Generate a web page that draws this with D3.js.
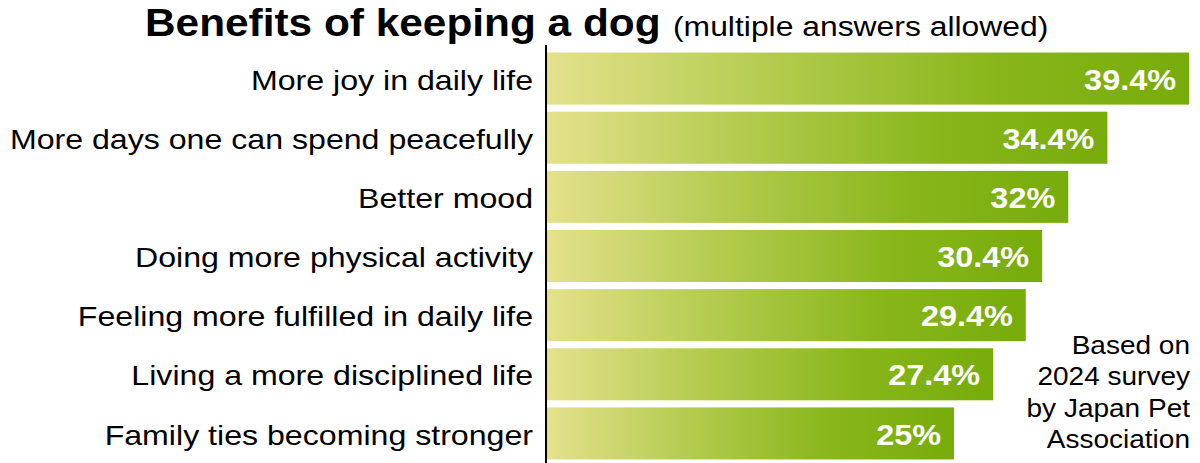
<!DOCTYPE html>
<html>
  <head>
    <meta charset="utf-8">
    <script src="https://d3js.org/d3.v7.min.js"></script>
    <style>
      body { margin: 0; background: #fff; }
      svg { display: block; font-family: "Liberation Sans", Arial, sans-serif; }
    </style>
  </head>
  <body>
    <div id="chart"></div>
    <script>
      // data
      var categories = [
        "More joy in daily life",
        "More days one can spend peacefully",
        "Better mood",
        "Doing more physical activity",
        "Feeling more fulfilled in daily life",
        "Living a more disciplined life",
        "Family ties becoming stronger"
      ];
      var values = [39.4, 34.4, 32, 30.4, 29.4, 27.4, 25];
      var valueLabels = ["39.4%", "34.4%", "32%", "30.4%", "29.4%", "27.4%", "25%"];
      var sourceLines = ["Based on", "2024 survey", "by Japan Pet", "Association"];

      var width = 1200, height = 463;
      var x0 = 546;

      var svg = d3.select("#chart").append("svg")
        .attr("width", width)
        .attr("height", height);

      // the original lettering is a bit wider than Liberation Sans, so stretch it
      function stretch(sel, k) {
        sel.each(function() {
          var w = this.getComputedTextLength();
          d3.select(this).attr("textLength", w * k).attr("lengthAdjust", "spacingAndGlyphs");
        });
      }

      // gradient, per bar
      var grad = svg.append("defs").append("linearGradient")
        .attr("id", "barGrad")
        .attr("x1", "0").attr("x2", "1").attr("y1", "0").attr("y2", "0");
      grad.append("stop").attr("offset", "0").attr("stop-color", "#e4e18c");
      grad.append("stop").attr("offset", "0.35").attr("stop-color", "#b3cb4e");
      grad.append("stop").attr("offset", "0.7").attr("stop-color", "#88b61a");
      grad.append("stop").attr("offset", "1").attr("stop-color", "#77ac0a");

      var x = d3.scaleLinear().domain([0, 39.4]).range([x0, 1189]);
      var y = d3.scaleBand().domain(categories).range([49, 463]).paddingInner(0.12).paddingOuter(0.06);

      // title
      svg.append("text")
        .attr("x", 145).attr("y", 36)
        .attr("font-size", 38).attr("font-weight", "bold")
        .attr("fill", "#000")
        .text("Benefits of keeping a dog")
        .call(stretch, 1.115);
      svg.append("text")
        .attr("x", 673).attr("y", 36)
        .attr("font-size", 27)
        .attr("fill", "#000")
        .text("(multiple answers allowed)")
        .call(stretch, 1.18);

      // bars
      svg.selectAll("rect.bar")
        .data(values)
        .enter().append("rect")
        .attr("class", "bar")
        .attr("x", x(0) + 1)
        .attr("y", function(d, i) { return y(categories[i]); })
        .attr("width", function(d) { return x(d) - x(0) - 1; })
        .attr("height", y.bandwidth())
        .attr("fill", "url(#barGrad)");

      // value labels
      svg.selectAll("text.val")
        .data(values)
        .enter().append("text")
        .attr("class", "val")
        .attr("x", function(d) { return x(d) - 13; })
        .attr("y", function(d, i) { return y(categories[i]) + y.bandwidth() / 2; })
        .attr("dy", "0.37em")
        .attr("text-anchor", "end")
        .attr("font-size", 30)
        .attr("font-weight", "bold")
        .attr("fill", "#fff")
        .text(function(d, i) { return valueLabels[i]; })
        .call(stretch, 1.08);

      // category axis
      var axis = d3.axisLeft(y).tickSize(0).tickPadding(13);
      var g = svg.append("g")
        .attr("transform", "translate(" + x0 + ",0)")
        .call(axis);
      g.select(".domain").remove();
      g.selectAll("text")
        .attr("font-size", 28)
        .attr("font-family", "Liberation Sans, Arial, sans-serif")
        .attr("dy", "0.4em")
        .attr("fill", "#000")
        .call(stretch, 1.147);
      svg.append("line")
        .attr("x1", x0).attr("x2", x0)
        .attr("y1", 45).attr("y2", height)
        .attr("stroke", "#000").attr("stroke-width", 2);

      // source note
      svg.append("g")
        .selectAll("text")
        .data(sourceLines)
        .enter().append("text")
        .attr("text-anchor", "end")
        .attr("font-size", 25)
        .attr("fill", "#000")
        .attr("x", 1190)
        .attr("y", function(d, i) { return 354 + i * 31.3; })
        .text(function(d) { return d; })
        .call(stretch, 1.12);
    </script>
  </body>
</html>
